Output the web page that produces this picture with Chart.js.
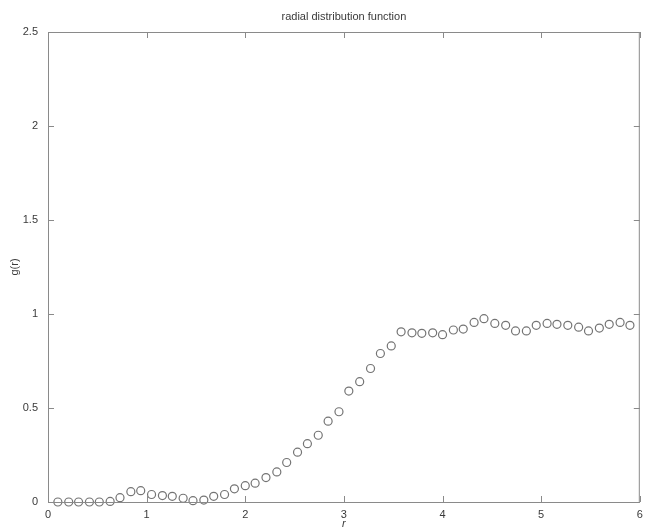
<!DOCTYPE html>
<html>
<head>
<meta charset="utf-8">
<script src="https://cdn.jsdelivr.net/npm/chart.js@4/dist/chart.umd.min.js"></script>
<style>
  html, body { margin: 0; padding: 0; background: #fff; }
  #wrap { width: 645px; height: 531px; }
</style>
</head>
<body>
<div id="wrap"><canvas id="rdf" width="645" height="531"></canvas></div>
<script>
// r values (sample positions) and g(r)
const rValues = [
  0.10, 0.21, 0.31, 0.42, 0.52, 0.63, 0.73, 0.84, 0.94, 1.05,
  1.16, 1.26, 1.37, 1.47, 1.58, 1.68, 1.79, 1.89, 2.00, 2.10,
  2.21, 2.32, 2.42, 2.53, 2.63, 2.74, 2.84, 2.95, 3.05, 3.16,
  3.27, 3.37, 3.48, 3.58, 3.69, 3.79, 3.90, 4.00, 4.11, 4.21,
  4.32, 4.42, 4.53, 4.64, 4.74, 4.85, 4.95, 5.06, 5.16, 5.27,
  5.38, 5.48, 5.59, 5.69, 5.80, 5.90
]
const gValues = [
  0.000, 0.000, 0.000, 0.000, 0.000, 0.003, 0.023, 0.055, 0.060, 0.040,
  0.034, 0.030, 0.020, 0.007, 0.010, 0.030, 0.040, 0.070, 0.087, 0.100,
  0.130, 0.160, 0.210, 0.265, 0.310, 0.355, 0.430, 0.480, 0.590, 0.640,
  0.710, 0.790, 0.830, 0.905, 0.900, 0.897, 0.900, 0.890, 0.915, 0.920,
  0.955, 0.975, 0.950, 0.940, 0.910, 0.910, 0.940, 0.950, 0.945, 0.940,
  0.930, 0.910, 0.925, 0.945, 0.955, 0.940
]
const xTicks = [0, 1, 2, 3, 4, 5, 6]
const yTicks = [0, 0.5, 1, 1.5, 2, 2.5]

const titleText = "radial distribution function"
const xTitle = "r"
const yTitle = "g(r)"

const axisColor = "#8a8a8a"
const markColor = "#747474"
const textColor = "#3a3a3a"
const fontFamily = "'Liberation Sans', Arial, sans-serif"

// Box around the axes with inward ticks on all four sides, plus the title
const boxPlugin = {
  id: "matlabBox",
  afterDraw(chart) {
    const { ctx, chartArea: a, scales } = chart
    ctx.save()
    ctx.strokeStyle = axisColor
    ctx.lineWidth = 1
    ctx.strokeRect(a.left + 0.5, a.top + 0.5, a.right - a.left - 1, a.bottom - a.top)
    const len = 6
    ctx.beginPath()
    xTicks.forEach((t) => {
      const px = Math.round(scales.x.getPixelForValue(t)) + 0.5
      ctx.moveTo(px, a.bottom)
      ctx.lineTo(px, a.bottom - len)
      ctx.moveTo(px, a.top)
      ctx.lineTo(px, a.top + len)
    })
    yTicks.forEach((t) => {
      const py = Math.round(scales.y.getPixelForValue(t)) + 0.5
      ctx.moveTo(a.left, py)
      ctx.lineTo(a.left + len, py)
      ctx.moveTo(a.right, py)
      ctx.lineTo(a.right - len, py)
    })
    ctx.stroke()

    ctx.fillStyle = textColor
    ctx.font = "11px " + fontFamily
    ctx.textAlign = "center"
    ctx.textBaseline = "middle"
    ctx.fillText(titleText, (a.left + a.right) / 2, 17)
    ctx.restore()
  },
}

new Chart(document.getElementById("rdf"), {
  type: "scatter",
  data: {
    datasets: [
      {
        data: rValues.map((r, i) => ({ x: r, y: gValues[i] })),
        pointStyle: "circle",
        pointRadius: 4,
        pointBorderWidth: 1.2,
        pointBorderColor: markColor,
        pointBackgroundColor: "rgba(0,0,0,0)",
        showLine: false,
        clip: false,
      },
    ],
  },
  options: {
    responsive: false,
    animation: false,
    devicePixelRatio: 1,
    layout: { padding: { top: 32, right: 3, left: 0, bottom: 0 } },
    plugins: {
      legend: { display: false },
      tooltip: { enabled: false },
      title: { display: false },
    },
    scales: {
      x: {
        type: "linear",
        min: 0,
        max: 6,
        afterFit: (scale) => {
          scale.height = 29
          scale.paddingLeft = 0
          scale.paddingRight = 0
        },
        afterBuildTicks: (scale) => { scale.ticks = xTicks.map((v) => ({ value: v })) },
        grid: { display: false, drawTicks: false },
        border: { display: false },
        ticks: {
          padding: 6,
          color: textColor,
          font: { family: fontFamily, size: 11 },
          callback: (v) => String(v),
          maxRotation: 0,
        },
        title: {
          display: true,
          text: xTitle,
          color: textColor,
          font: { family: fontFamily, size: 11, style: "italic" },
          padding: { top: 0, bottom: 0 },
        },
      },
      y: {
        type: "linear",
        min: 0,
        max: 2.5,
        afterFit: (scale) => {
          scale.width = 48
          scale.paddingTop = 0
          scale.paddingBottom = 0
        },
        afterBuildTicks: (scale) => { scale.ticks = yTicks.map((v) => ({ value: v })) },
        grid: { display: false, drawTicks: false },
        border: { display: false },
        ticks: {
          padding: 10,
          color: textColor,
          font: { family: fontFamily, size: 11 },
          callback: (v) => String(v),
        },
        title: {
          display: true,
          text: yTitle,
          color: textColor,
          font: { family: fontFamily, size: 11 },
          padding: { top: 8, bottom: 0 },
        },
      },
    },
  },
  plugins: [boxPlugin],
})
</script>
</body>
</html>
